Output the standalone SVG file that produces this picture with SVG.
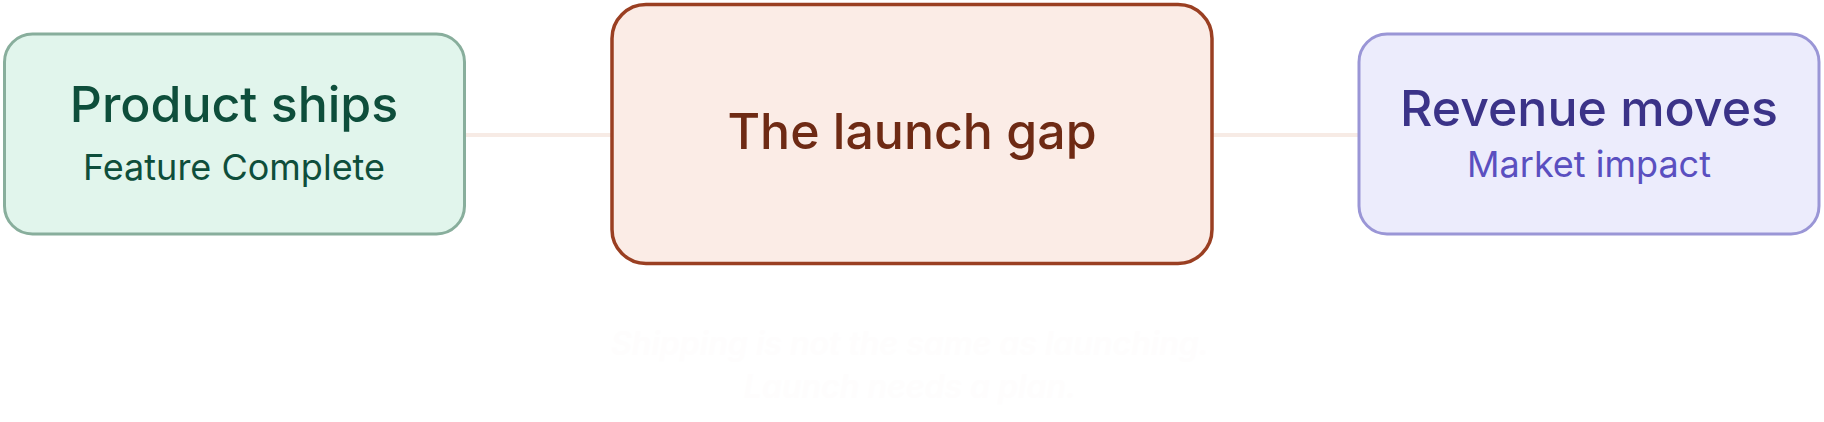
<svg xmlns="http://www.w3.org/2000/svg" width="1824" height="422" viewBox="0 0 1824 422">
<style>
.title{font-family:Inter,"Noto Sans",sans-serif;font-weight:500;font-size:50px;text-anchor:middle}
.sub{font-family:Inter,"Noto Sans",sans-serif;font-weight:400;font-size:36px;text-anchor:middle}
.conn{stroke:#f7ebe5;stroke-width:4;fill:none}
.caption{font-family:Inter,"Noto Sans",sans-serif;font-style:italic;font-weight:600;font-size:32px;text-anchor:middle;fill:#fefdfd}
</style>
<rect width="1824" height="422" fill="#ffffff"/>
<g id="connectors">
<line class="conn" x1="465" y1="135" x2="611" y2="135"/>
<line class="conn" x1="1213" y1="135" x2="1358" y2="135"/>
</g>
<g id="node-product">
<rect x="4.5" y="34" width="460" height="200" rx="28" fill="#e1f5ec" stroke="#88ae9c" stroke-width="3"/>
<text class="title" x="234" y="122" fill="#0e4e3b" font-weight="400">Product ships</text>
<text class="sub" x="234" y="180" fill="#0e4e3b">Feature Complete</text>
</g>
<g id="node-gap">
<rect x="612" y="4.5" width="600" height="259" rx="34" fill="#fbece6" stroke="#9a3f22" stroke-width="3.5"/>
<text class="title" x="912" y="149" fill="#6e2a14">The launch gap</text>
</g>
<g id="node-revenue">
<rect x="1359" y="34" width="460" height="200" rx="28" fill="#ececfc" stroke="#9a96d6" stroke-width="3"/>
<text class="title" x="1589" y="126" fill="#3b3388" font-weight="400">Revenue moves</text>
<text class="sub" x="1589" y="177" fill="#5a4fc0">Market impact</text>
</g>
<g id="caption">
<text class="caption" x="910" y="355">Shipping is not the same as launching.</text>
<text class="caption" x="910" y="398">Launch needs a plan.</text>
</g>
</svg>
